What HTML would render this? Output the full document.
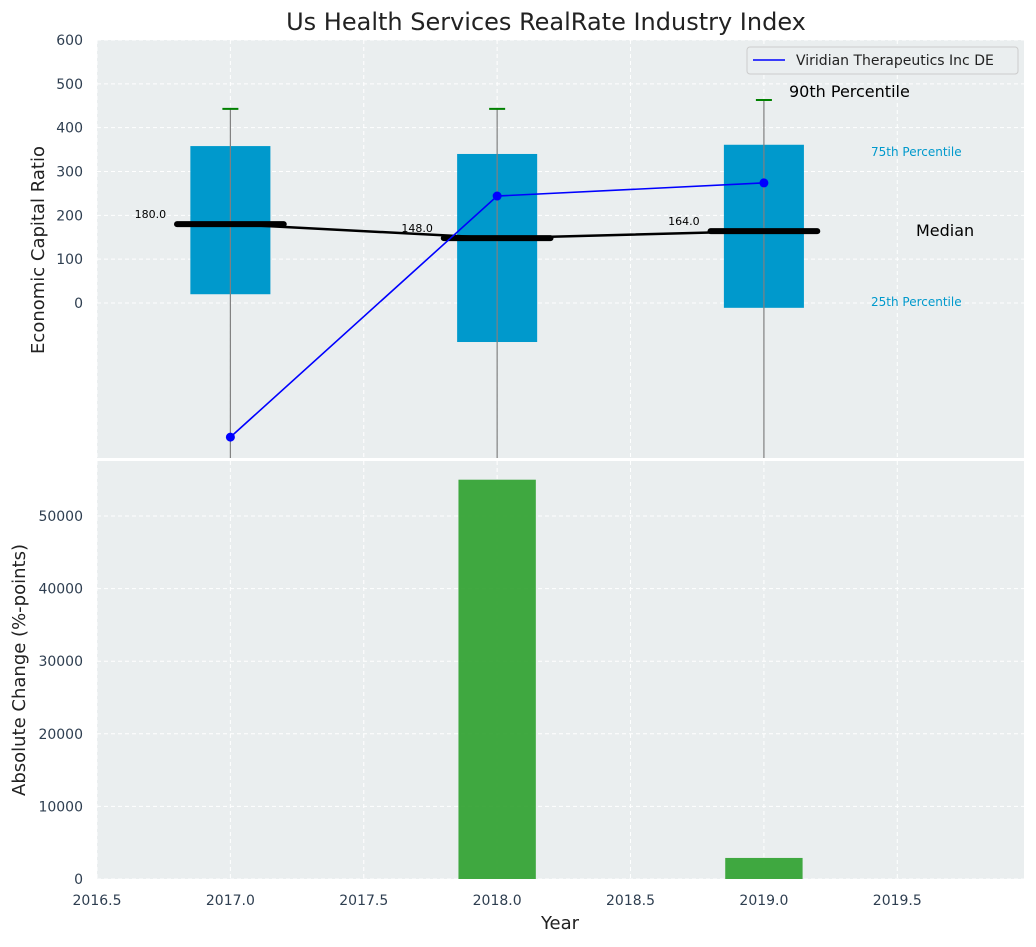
<!DOCTYPE html>
<html><head><meta charset="utf-8"><style>
body{margin:0;background:#fff;font-family:"Liberation Sans","DejaVu Sans",sans-serif}
svg text{font-family:"DejaVu Sans","Liberation Sans",sans-serif}
</style></head><body>
<svg id="c" width="1036" height="942" xmlns="http://www.w3.org/2000/svg"></svg>
<script>
const years=[2017,2018,2019];
const q1=[20,-89,-11];
const q3=[358,340,361];
const medians=[180,148,164];
const p90=[443,443,463];
const viridian=[-306,244,274];
const changes=[0,55000,2900];
const xTicks=[2016.5,2017,2017.5,2018,2018.5,2019,2019.5];
const yTopTicks=[0,100,200,300,400,500,600];
const yBotTicks=[0,10000,20000,30000,40000,50000];

const svg=document.getElementById('c');
const NS='http://www.w3.org/2000/svg';
function el(tag,attrs,parent,text){const e=document.createElementNS(NS,tag);for(const k in attrs)e.setAttribute(k,attrs[k]);if(text!==undefined)e.textContent=text;(parent||svg).appendChild(e);return e;}
const L=97,R=1024;
const X=v=>L+(v-2016.5)*(R-L)/(2019.975-2016.5);
const T0=40,T1=458,B0=461,B1=879;
const YT=v=>303-v*(303-40)/600;
const YB=v=>B1-v*(B1-516)/50000;

let t=el('text',{x:546,y:30,'text-anchor':'middle','font-size':24,fill:'#222'},svg,'Us Health Services RealRate Industry Index');


for(const [y0,y1,nm] of [[T0,T1,'top-panel'],[B0,B1,'bottom-panel']]){
 const r=el('rect',{x:L,y:y0,width:R-L,height:y1-y0,fill:'#eaeeef'});
 
}
xTicks.forEach(v=>{
 for(const [y0,y1] of [[T0,T1],[B0,B1]]) el('line',{x1:X(v),x2:X(v),y1:y0,y2:y1,stroke:'#fff','stroke-dasharray':'4,3','stroke-width':1});
});
yTopTicks.forEach(v=>{el('line',{x1:L,x2:R,y1:YT(v),y2:YT(v),stroke:'#fff','stroke-dasharray':'4,3'});
 const tx=el('text',{x:L-14,y:YT(v)+5,'text-anchor':'end','font-size':14,fill:'#2e3e50'},svg,String(v));
 });
yBotTicks.forEach(v=>{el('line',{x1:L,x2:R,y1:YB(v),y2:YB(v),stroke:'#fff','stroke-dasharray':'4,3'});
 const tx=el('text',{x:L-14,y:YB(v)+5,'text-anchor':'end','font-size':14,fill:'#2e3e50'},svg,String(v));
 });
xTicks.forEach(v=>{const tx=el('text',{x:X(v),y:905,'text-anchor':'middle','font-size':14,fill:'#2e3e50'},svg,v.toFixed(1));
 });

const clipId='clipTop';
const cp=el('clipPath',{id:clipId});el('rect',{x:L,y:T0,width:R-L,height:T1-T0},cp);
const g=el('g',{'clip-path':'url(#'+clipId+')'});
years.forEach((y,i)=>{
 const b=el('rect',{x:X(y-0.15),y:YT(q3[i]),width:X(y+0.15)-X(y-0.15),height:YT(q1[i])-YT(q3[i]),fill:'#0099cc'},g);
 
 el('line',{x1:X(y),x2:X(y),y1:YT(p90[i]),y2:T1,stroke:'#808080','stroke-width':1.2},g);
 const c=el('line',{x1:X(y-0.03),x2:X(y+0.03),y1:YT(p90[i]),y2:YT(p90[i]),stroke:'green','stroke-width':2},g);
 
 const m=el('line',{x1:X(y-0.2),x2:X(y+0.2),y1:YT(medians[i]),y2:YT(medians[i]),stroke:'#000','stroke-width':6,'stroke-linecap':'round'},g);
 
 const lb=el('text',{x:X(y-0.3),y:YT(medians[i])-6,'text-anchor':'middle','font-size':11,fill:'#000'},g,medians[i].toFixed(1));
 
});
const ml=el('polyline',{points:years.map((y,i)=>X(y)+','+YT(medians[i])).join(' '),fill:'none',stroke:'#000','stroke-width':2.5},g);

const vl=el('polyline',{points:years.map((y,i)=>X(y)+','+YT(viridian[i])).join(' '),fill:'none',stroke:'#0000ff','stroke-width':1.6},g);

years.forEach((y,i)=>{const p=el('circle',{cx:X(y),cy:YT(viridian[i]),r:4.5,fill:'#0000ff'},g);
 });

const ann=[[789,97,'90th Percentile',16,'#000'],[871,156,'75th Percentile',12,'#0099cc'],[916,236,'Median',16,'#000'],[871,306,'25th Percentile',12,'#0099cc']];
ann.forEach(a=>{const e=el('text',{x:a[0],y:a[1],'font-size':a[3],fill:a[4]},svg,a[2]);
 });

const lg=el('g',{});
el('rect',{x:747,y:47,width:271,height:27,rx:3,fill:'#eaeeef',stroke:'#ccc'},lg);
el('line',{x1:753,x2:785,y1:60,y2:60,stroke:'#0000ff','stroke-width':1.6},lg);
el('text',{x:796,y:65,'font-size':14,fill:'#222'},lg,'Viridian Therapeutics Inc DE');

years.forEach((y,i)=>{if(changes[i]<=0)return;
 const b=el('rect',{x:X(y-0.145),y:YB(changes[i]),width:X(y+0.145)-X(y-0.145),height:YB(0)-YB(changes[i]),fill:'#2ca02c','fill-opacity':0.9});
 });

let a1=el('text',{x:0,y:0,transform:'translate(44,250) rotate(-90)','text-anchor':'middle','font-size':18,fill:'#222'},svg,'Economic Capital Ratio');

let a2=el('text',{x:0,y:0,transform:'translate(25,670) rotate(-90)','text-anchor':'middle','font-size':18,fill:'#222'},svg,'Absolute Change (%-points)');

let a3=el('text',{x:560,y:929,'text-anchor':'middle','font-size':18,fill:'#222'},svg,'Year');

</script>
</body></html>
